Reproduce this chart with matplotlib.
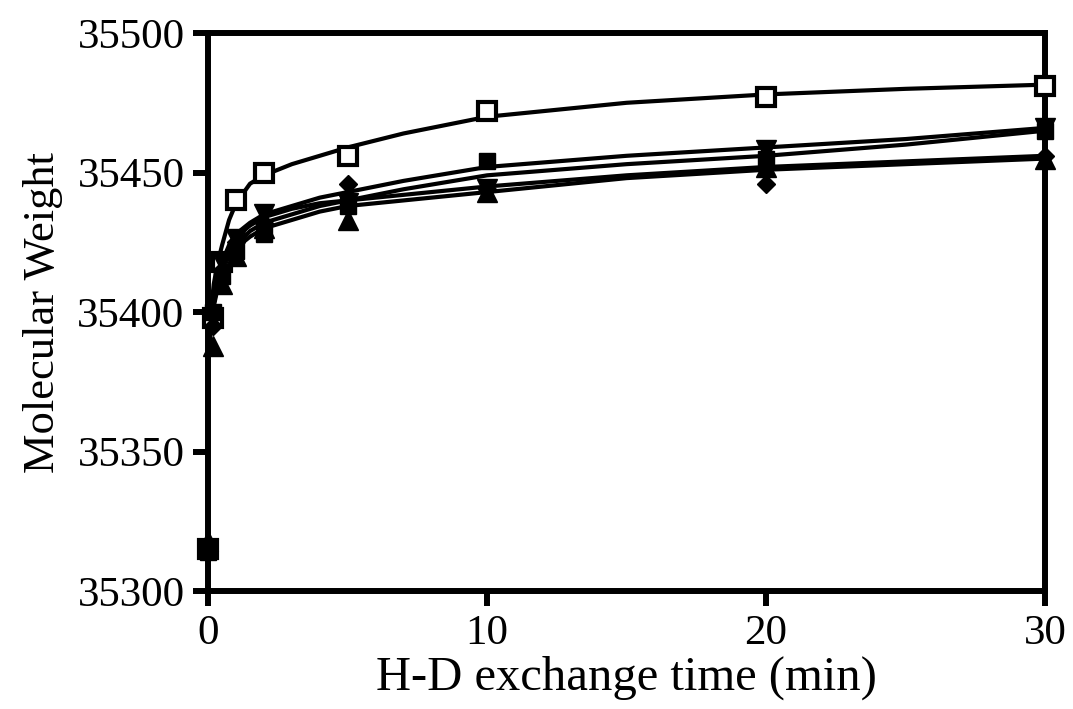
import matplotlib
matplotlib.use("Agg")
import matplotlib.pyplot as plt
import numpy as np

plt.rcParams['font.family'] = ['Liberation Serif', 'DejaVu Serif']

# measured points (min, Da)
times = [0, 0.17, 0.5, 1, 2, 5, 10, 20, 30]
sq_open = [35315, 35398, 35418, 35440, 35450, 35456, 35472, 35477, 35481]
sq_fill = [35314, 35400, 35413, 35422, 35428, 35438, 35454, 35455, 35465]
diamond = [35315, 35395, 35415, 35425, 35432, 35446, 35444, 35446, 35456]
tri_up = [35318, 35388, 35410, 35420, 35430, 35433, 35443, 35452, 35455]
tri_down = [35315, 35398, 35418, 35426, 35435, 35439, 35444, 35458, 35466]

# fitted curves
curve_t = [0.05, 0.1, 0.2, 0.35, 0.5, 0.75, 1, 1.5, 2, 3, 4, 5, 7, 10, 15, 20, 25, 30]
fit_sq_open = [35392, 35400, 35410, 35418, 35424, 35433, 35439, 35446, 35449, 35453,
               35456, 35459, 35464, 35470, 35475, 35478, 35480, 35481.5]
fit_tri_down = [35392, 35400, 35407, 35414, 35418, 35424, 35428, 35432, 35435, 35438,
                35441, 35443, 35447, 35452, 35456, 35459, 35462, 35466]
fit_sq_fill = [35390, 35396, 35403, 35410, 35415, 35420, 35424, 35429, 35432, 35435,
               35438, 35440, 35444, 35449, 35453, 35456, 35460, 35465]
fit_diamond = [35390, 35397, 35405, 35413, 35418, 35423, 35427, 35431, 35434, 35437,
               35439, 35440, 35442, 35445, 35449, 35452, 35454, 35456]
fit_tri_up = [35388, 35394, 35402, 35409, 35413, 35419, 35423, 35427, 35430, 35433,
              35436, 35438, 35440, 35443, 35448, 35451, 35453, 35455]

fig = plt.figure(figsize=(10.73, 7.09), dpi=100)
ax = fig.add_axes([0.194, 0.1664, 0.78, 0.787])

for fit in [fit_sq_open, fit_tri_down, fit_sq_fill, fit_diamond, fit_tri_up]:
    ax.plot(curve_t, fit, color='black', lw=3, zorder=2)

mk = dict(linestyle='none', color='black', clip_on=False, zorder=5)
ax.plot(times, sq_open, marker='s', ms=13, mfc='white', mew=3, **mk)
ax.plot(times, sq_fill, marker='s', ms=12, **mk)
ax.plot(times, diamond, marker='D', ms=9, **mk)
ax.plot(times, tri_up, marker='^', ms=14, **mk)
ax.plot(times, tri_down, marker='v', ms=14, **mk)

ax.set_xlim(0, 30)
ax.set_ylim(35300, 35500)
ax.set_xticks([0, 10, 20, 30])
ax.set_yticks([35300, 35350, 35400, 35450, 35500])
for s in ax.spines.values():
    s.set_linewidth(4.3)
ax.tick_params(direction='out', length=11, width=4.3, labelsize=31, pad=6)
ax.set_xlabel("H-D exchange time (min)", fontsize=35, labelpad=2)
ax.set_ylabel("Molecular Weight", fontsize=32, labelpad=10)

plt.savefig("out.png", dpi=100)
